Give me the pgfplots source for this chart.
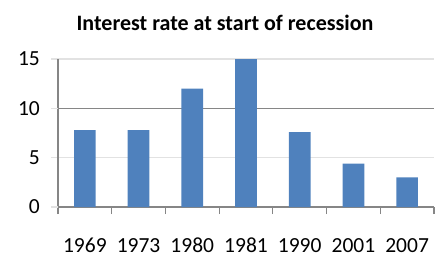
\documentclass[border=0pt]{standalone}
\usepackage{pgfplots}
\pgfplotsset{compat=1.18}
\usepackage{fontspec}
\setmainfont{Carlito}
\definecolor{barblue}{HTML}{4F81BD}
\definecolor{axgray}{HTML}{868686}
\definecolor{gridlight}{HTML}{E2E2E2}
\begin{document}
\begin{tikzpicture}
\useasboundingbox (-58pt,-62pt) rectangle (390pt,207pt);
\begin{axis}[
  at={(0pt,0pt)}, anchor=south west,
  scale only axis, width=376pt, height=148pt,
  xmin=-0.5, xmax=6.5, ymin=0, ymax=15,
  axis x line*=bottom, axis y line*=left,
  axis line style={axgray, line width=1.2pt},
  tick align=outside,
  /pgf/number format/assume math mode=true,
  ytick={5,15},
  ymajorgrids=true,
  grid style={gridlight, line width=1.3pt},
  ytick style={gridlight, line width=1.3pt},
  y tick label style={font=\fontsize{21.5}{21.5}\selectfont, anchor=east, inner sep=0pt, xshift=-11pt},
  major tick length=7pt,
  extra y ticks={0,10},
  extra y tick style={grid style={axgray, line width=1.2pt}, tick style={axgray, line width=1.2pt}},
  xtick={-0.5,0.5,1.5,2.5,3.5,4.5,5.5,6.5},
  xticklabels={},
  xtick style={axgray, line width=1.2pt},
  extra x ticks={0,1,2,3,4,5,6},
  extra x tick labels={1969,1973,1980,1981,1990,2001,2007},
  extra x tick style={major tick length=0pt, xmajorgrids=false,
     tick label style={font=\fontsize{21.5}{21.5}\selectfont, anchor=base, yshift=-45pt, inner sep=0pt}},
  clip=false,
]
\addplot[ybar, bar width=21.7pt, fill=barblue, draw=none] coordinates {
(0,7.8) (1,7.8) (2,12.0) (3,15.0) (4,7.6) (5,4.4) (6,3.0)};
\end{axis}
\node[font=\bfseries\fontsize{22}{22}\selectfont, anchor=base] at (167pt,177pt) {Interest rate at start of recession};
\end{tikzpicture}
\end{document}
